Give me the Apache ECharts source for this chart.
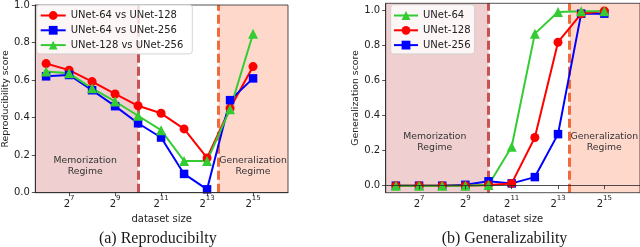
<!DOCTYPE html>
<html><head><meta charset="utf-8">
<script src="https://cdn.jsdelivr.net/npm/echarts@6/dist/echarts.min.js"></script>
<style>html,body{margin:0;padding:0;background:#fff}#c{width:640px;height:247px}</style>
</head><body><div id="c"></div>
<script>
// ---- data ----
const exponents = [6, 7, 8, 9, 10, 11, 12, 13, 14, 15];   // dataset size = 2^exponent
const xTickExps = [7, 9, 11, 13, 15];
const yTicks = [0, 0.2, 0.4, 0.6, 0.8, 1.0];
// (a) Reproducibility
const rep64v128  = [0.688, 0.653, 0.592, 0.526, 0.463, 0.423, 0.340, 0.185, 0.450, 0.672];
const rep64v256  = [0.620, 0.627, 0.546, 0.461, 0.370, 0.294, 0.100, 0.018, 0.493, 0.609];
const rep128v256 = [0.646, 0.636, 0.556, 0.486, 0.410, 0.333, 0.169, 0.169, 0.445, 0.847];
// (b) Generalizability
const gen64  = [0, 0, 0, 0, 0.004, 0.222, 0.867, 0.990, 0.994, 0.994];
const gen128 = [0, 0, 0, 0, 0.004, 0.013, 0.275, 0.818, 0.980, 0.996];
const gen256 = [0, 0, 0, 0.005, 0.025, 0.013, 0.049, 0.294, 0.981, 0.981];
// regime boundaries (exponent)
const memorizationEnd = 10;
const generalizationStart = 13.5;
// axis ranges
const xRangeA = [5.53, 16.52], yRangeA = [0, 1.0];
const xRangeB = [5.56, 16.54], yRangeB = [-0.04, 1.04];
// annotation anchors [exponent, value]
const memoLabelA = [7.7, 0.143], genLabelA = [15, 0.143];
const memoLabelB = [7.68, 0.249], genLabelB = [15, 0.249];

const SANS = 'DejaVu Sans';
const AX = '#262626';
const zip = (xs, ys) => xs.map((x, i) => [x, ys[i]]);

function xAxisCfg(gi, range) {
  return {
    gridIndex: gi, type: 'value', min: range[0], max: range[1], z: 10,
    axisLine: { show: true, lineStyle: { color: AX, width: 0.8 } },
    axisTick: { show: true, customValues: xTickExps, length: 3.5, lineStyle: { color: AX, width: 0.8 } },
    axisLabel: {
      customValues: xTickExps, margin: 1.5,
      formatter: v => '{b|2}{s|' + v + '}',
      rich: {
        b: { fontFamily: SANS, fontSize: 10, lineHeight: 20, color: '#222' },
        s: { fontFamily: SANS, fontSize: 7, lineHeight: 8, verticalAlign: 'top', color: '#222' }
      }
    },
    splitLine: { show: false },
    name: 'dataset size', nameLocation: 'middle', nameGap: 13.5,
    nameTextStyle: { fontFamily: SANS, fontSize: 10, color: '#222' }
  };
}
function yAxisCfg(gi, range, name) {
  return {
    gridIndex: gi, type: 'value', min: range[0], max: range[1], z: 10,
    axisLine: { show: true, lineStyle: { color: AX, width: 0.8 } },
    axisTick: { show: true, customValues: yTicks, length: 3.5, lineStyle: { color: AX, width: 0.8 } },
    axisLabel: { customValues: yTicks, margin: 5.5, formatter: v => Number(v).toFixed(1),
      fontFamily: SANS, fontSize: 10, color: '#222' },
    splitLine: { show: false },
    name: name, nameLocation: 'middle', nameGap: 24.5, nameRotate: 90,
    nameTextStyle: { fontFamily: SANS, fontSize: 9.3, color: '#222' }
  };
}
function regimeMarkers(range) {
  return {
    markArea: {
      silent: true, z: 1,
      data: [
        [{ xAxis: range[0], itemStyle: { color: '#efcfcf' } }, { xAxis: memorizationEnd }],
        [{ xAxis: generalizationStart, itemStyle: { color: '#ffd8cc' } }, { xAxis: range[1] }]
      ]
    },
    markLine: {
      silent: true, z: 2, symbol: 'none', label: { show: false },
      data: [
        { xAxis: memorizationEnd, lineStyle: { color: '#c65353', width: 3, type: [9, 4] } },
        { xAxis: generalizationStart, lineStyle: { color: '#f06a3c', width: 3, type: [9, 4] } }
      ]
    }
  };
}
function regimeLabels(memo, gen) {
  const lab = t => ({ show: true, position: 'inside', formatter: t, fontFamily: SANS, fontSize: 9.3,
    lineHeight: 10.7, color: '#333', align: 'center' });
  return {
    symbol: 'circle', symbolSize: 1, silent: true, z: 2,
    itemStyle: { color: 'rgba(0,0,0,0)' },
    data: [
      { coord: memo, label: lab('Memorization\nRegime') },
      { coord: gen, label: lab('Generalization\nRegime') }
    ]
  };
}
function lineSeries(name, gi, ys, color, symbol, size, z) {
  return {
    name: name, type: 'line', xAxisIndex: gi, yAxisIndex: gi, z: z || 3,
    data: zip(exponents, ys), symbol: symbol, symbolSize: size, showSymbol: true,
    lineStyle: { color: color, width: 2 }, itemStyle: { color: color },
    emphasis: { disabled: true }, animation: false
  };
}
const RED = '#ff0000', BLUE = '#0000ff', GREEN = '#33cc33';

const sA1 = lineSeries('UNet-64 vs UNet-128', 0, rep64v128, RED, 'circle', 9);
Object.assign(sA1, regimeMarkers(xRangeA));
sA1.markPoint = regimeLabels(memoLabelA, genLabelA);
const sA2 = lineSeries('UNet-64 vs UNet-256', 0, rep64v256, BLUE, 'rect', 8.5);
const sA3 = lineSeries('UNet-128 vs UNet-256', 0, rep128v256, GREEN, 'triangle', 10);

const sB3 = lineSeries('UNet-256', 1, gen256, BLUE, 'rect', 8.5);
Object.assign(sB3, regimeMarkers(xRangeB));
sB3.markPoint = regimeLabels(memoLabelB, genLabelB);
const sB2 = lineSeries('UNet-128', 1, gen128, RED, 'circle', 9);
const sB1 = lineSeries('UNet-64', 1, gen64, GREEN, 'triangle', 10);

const legendBase = {
  orient: 'vertical', itemHeight: 11, itemGap: 3.2,
  backgroundColor: 'rgba(255,255,255,0.8)', borderColor: '#cccccc', borderWidth: 0.8, borderRadius: 3,
  textStyle: { fontFamily: SANS, fontSize: 10, color: '#222', lineHeight: 11.6 },
  selectedMode: false, z: 20
};

const chart = echarts.init(document.getElementById('c'), null, { renderer: 'canvas' });
chart.setOption({
  animation: false,
  backgroundColor: '#fff',
  grid: [
    { left: 35, top: 3.3, width: 253, height: 189.4, show: true, z: 10,
      backgroundColor: 'rgba(0,0,0,0)', borderColor: AX, borderWidth: 0.8 },
    { left: 385.7, top: 3.3, width: 254.3, height: 189.4, show: true, z: 10,
      backgroundColor: 'rgba(0,0,0,0)', borderColor: AX, borderWidth: 0.8 }
  ],
  xAxis: [xAxisCfg(0, xRangeA), xAxisCfg(1, xRangeB)],
  yAxis: [yAxisCfg(0, yRangeA, 'Reproducibility score'), yAxisCfg(1, yRangeB, 'Generalization score')],
  legend: [
    Object.assign({}, legendBase, { left: 36.7, top: 4.7, itemWidth: 25, padding: [5, 9, 3, 3],
      data: ['UNet-64 vs UNet-128', 'UNet-64 vs UNet-256', 'UNet-128 vs UNet-256'] }),
    Object.assign({}, legendBase, { left: 390.7, top: 4.7, itemWidth: 24, padding: [5, 4, 3, 2.3],
      data: ['UNet-64', 'UNet-128', 'UNet-256'] })
  ],
  graphic: [
    { type: 'text', x: 157.8, y: 239, style: { text: '(a) Reproducibilty', fontFamily: 'Liberation Serif',
      fontSize: 16, fill: '#1a1a1a', align: 'center', verticalAlign: 'middle' } },
    { type: 'text', x: 504.5, y: 239, style: { text: '(b) Generalizability', fontFamily: 'Liberation Serif',
      fontSize: 16, fill: '#1a1a1a', align: 'center', verticalAlign: 'middle' } }
  ],
  series: [sA1, sA2, sA3, sB3, sB2, sB1]
});
</script></body></html>
